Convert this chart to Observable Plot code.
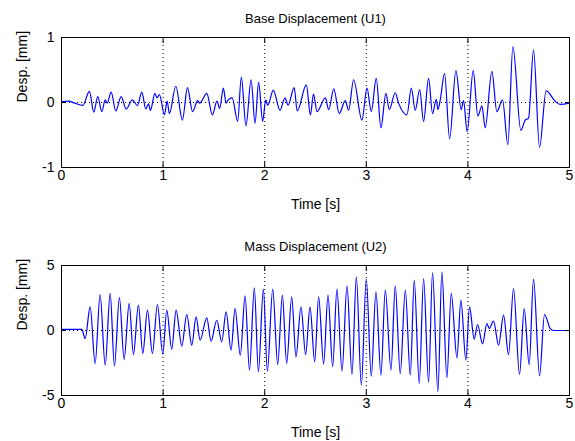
<!DOCTYPE html>
<html>
<head>
<meta charset="utf-8">
<script src="https://cdn.jsdelivr.net/npm/d3@7"></script>
<script src="https://cdn.jsdelivr.net/npm/@observablehq/plot@0.6"></script>
<style>
  html, body { margin: 0; padding: 0; background: #fff; }
  #wrap { position: relative; width: 575px; height: 441px; background: #fff; overflow: hidden; }
  #wrap > div { position: absolute; left: 0; }
  svg { display: block; }
</style>
</head>
<body>
<div id="wrap"><div id="p1" style="top:0"></div><div id="p2" style="top:220px"></div></div>
<script>
// ---- Data (time in s, displacement in mm) ----
const titles = ["Base Displacement (U1)", "Mass Displacement (U2)"];
const xLabel = "Time [s]";
const yLabel = "Desp. [mm]";
const xTicks = [0, 1, 2, 3, 4, 5];
const u1Ticks = [-1, 0, 1];
const u2Ticks = [-5, 0, 5];
const xGrid = [1, 2, 3, 4];

// Base displacement U1 (extrema)
const u1Time = [0, 0.07, 0.13, 0.21, 0.275, 0.318, 0.357, 0.397, 0.43, 0.45, 0.489, 0.534, 0.587, 0.636, 0.698, 0.748, 0.79, 0.83, 0.856, 0.875, 0.92, 0.94, 0.964, 1.013,
  1.04, 1.062, 1.125, 1.19, 1.24, 1.29, 1.34, 1.36, 1.43, 1.485, 1.53, 1.557, 1.593, 1.62, 1.64, 1.68, 1.734, 1.77, 1.816, 1.866, 1.905, 1.94, 1.98,
  2.01, 2.03, 2.085, 2.15, 2.2, 2.23, 2.29, 2.32, 2.41, 2.45, 2.48, 2.515, 2.597, 2.63, 2.68, 2.734, 2.793, 2.826, 2.875, 2.957,
  3.007, 3.049, 3.098, 3.144, 3.193, 3.226, 3.285, 3.318, 3.4, 3.443, 3.482, 3.525, 3.564, 3.613, 3.652, 3.689, 3.705, 3.728, 3.77, 3.82, 3.882, 3.934, 3.957, 3.993,
  4.052, 4.098, 4.138, 4.17, 4.236, 4.285, 4.341, 4.393, 4.443, 4.521, 4.564, 4.597, 4.646, 4.705, 4.77, 4.859, 4.908, 4.99, 5.0];
const u1Value = [0.015, 0.02, -0.01, -0.045, 0.17, -0.15, 0.09, -0.14, 0.04, -0.01, 0.16, -0.13, 0.09, -0.10, 0.04, -0.05, 0.16, -0.10, -0.02, -0.12, 0.14, 0.07, 0.12, -0.19,
  0.02, -0.17, 0.25, -0.27, 0.23, -0.14, 0.03, -0.01, 0.14, -0.19, 0.02, -0.09, 0.22, -0.01, 0.04, 0.07, -0.29, 0.39, -0.36, 0.35, -0.32, 0.31, -0.29,
  0.04, -0.04, 0.19, -0.12, 0.07, -0.04, 0.23, -0.13, 0.27, -0.19, 0.13, -0.14, 0.07, -0.11, 0.21, -0.17, 0.03, -0.12, 0.35, -0.27,
  0.22, -0.14, 0.37, -0.39, 0.14, -0.11, 0.15, -0.01, -0.19, 0.22, -0.12, 0.20, -0.29, 0.37, -0.17, 0.05, -0.11, 0.04, 0.45, -0.56, 0.49, -0.11, 0.03, -0.45,
  0.49, -0.21, -0.05, -0.39, 0.48, -0.14, 0.04, -0.65, 0.86, -0.43, -0.27, -0.24, 0.81, -0.69, 0.18, 0.02, -0.03, -0.01, 0.0];

// Mass displacement U2 (extrema)
const u2Time = [0, 0.2, 0.233, 0.282, 0.331, 0.38, 0.43, 0.479, 0.521, 0.57, 0.616, 0.666, 0.708, 0.757, 0.8, 0.846, 0.895, 0.944, 0.997,
  1.036, 1.085, 1.128, 1.184, 1.233, 1.282, 1.325, 1.364, 1.43, 1.472, 1.528, 1.577, 1.62, 1.669, 1.708, 1.76, 1.807, 1.85, 1.898, 1.938, 1.987,
  2.026, 2.079, 2.128, 2.174, 2.216, 2.266, 2.308, 2.357, 2.403, 2.446, 2.492, 2.531, 2.58, 2.623, 2.669, 2.711, 2.761, 2.81, 2.859, 2.902, 2.951,
  3.0, 3.049, 3.095, 3.144, 3.187, 3.243, 3.285, 3.334, 3.384, 3.433, 3.472, 3.521, 3.564, 3.613, 3.652, 3.705, 3.744, 3.793, 3.836, 3.892, 3.931, 3.98,
  4.016, 4.062, 4.095, 4.144, 4.187, 4.21, 4.252, 4.302, 4.351, 4.4, 4.449, 4.508, 4.554, 4.603, 4.646, 4.705, 4.754, 4.81, 4.843, 5.0];
const u2Value = [0.08, 0.08, -0.62, 1.82, -2.54, 2.77, -2.67, 2.85, -2.74, 2.54, -2.23, 2.08, -1.85, 1.95, -1.77, 1.56, -1.77, 2.0, -1.82,
  1.56, -1.44, 1.56, -1.2, 1.23, -1.13, 1.05, -0.74, 0.97, -0.82, 0.79, -0.87, 1.44, -1.51, 1.69, -1.9, 2.67, -3.05, 3.28, -3.18, 3.18,
  -3.13, 3.18, -2.62, 2.72, -2.54, 2.59, -2.03, 1.82, -1.85, 1.82, -2.41, 2.59, -2.59, 2.72, -2.79, 3.18, -3.13, 3.44, -3.38, 4.13, -4.2,
  3.95, -3.51, 2.97, -3.44, 3.1, -3.05, 3.44, -3.31, 3.1, -3.44, 3.87, -4.08, 4.0, -4.0, 4.46, -4.72, 4.51, -3.64, 2.85, -2.1, 2.33, -2.28,
  1.82, -0.67, 0.46, -1.03, 0.54, 0.15, 0.72, -1.13, 1.18, -1.85, 3.23, -3.38, 1.69, -2.62, 3.95, -3.49, 1.23, 0.15, 0.0, 0.0];

const FONT = "'Liberation Sans', Arial, Helvetica, sans-serif";
const fmt = d => String(d);

function panel(title, times, values, yDomain, yTicks, height, marginTop, marginBottom) {
  const rows = times.map((t, i) => ({t, v: values[i]}));
  return Plot.plot({
    width: 575,
    height,
    marginTop,
    marginBottom,
    marginLeft: 61,
    marginRight: 6,
    style: {fontFamily: FONT, fontSize: "13px", background: "#fff", color: "#000", overflow: "visible"},
    x: {domain: [0, 5]},
    y: {domain: yDomain},
    marks: [
      Plot.ruleX(xGrid, {stroke: "#000", strokeWidth: 1, strokeDasharray: "1,3"}),
      Plot.ruleY([0], {stroke: "#000", strokeWidth: 1, strokeDasharray: "1,3"}),
      Plot.line(rows, {x: "t", y: "v", stroke: "#0000ff", strokeWidth: 1.2, curve: "monotone-x"}),
      Plot.axisX({anchor: "bottom", ticks: xTicks, tickSize: -5, tickPadding: 8, tickFormat: fmt, label: null, fontSize: 14}),
      Plot.axisX({anchor: "top", ticks: xTicks, tickSize: -5, tickFormat: () => "", label: null}),
      Plot.axisY({anchor: "left", ticks: yTicks, tickSize: -5, tickPadding: 12, tickFormat: fmt, label: null, fontSize: 14}),
      Plot.axisY({anchor: "right", ticks: yTicks, tickSize: -5, tickFormat: () => "", label: null}),
      Plot.frame({stroke: "#000", strokeWidth: 1}),
      Plot.text([title], {text: d => d, frameAnchor: "top", dy: -19, lineAnchor: "middle", fontSize: 13}),
      Plot.text([xLabel], {text: d => d, frameAnchor: "bottom", dy: 37, lineAnchor: "middle", fontSize: 14}),
      Plot.text([yLabel], {text: d => d, frameAnchor: "left", dx: -39, rotate: -90, lineAnchor: "middle", fontSize: 14})
    ]
  });
}

document.getElementById("p1").append(panel(titles[0], u1Time, u1Value, [-1, 1], u1Ticks, 220, 37, 53));
document.getElementById("p2").append(panel(titles[1], u2Time, u2Value, [-5, 5], u2Ticks, 221, 45, 46));
</script>
</body>
</html>
